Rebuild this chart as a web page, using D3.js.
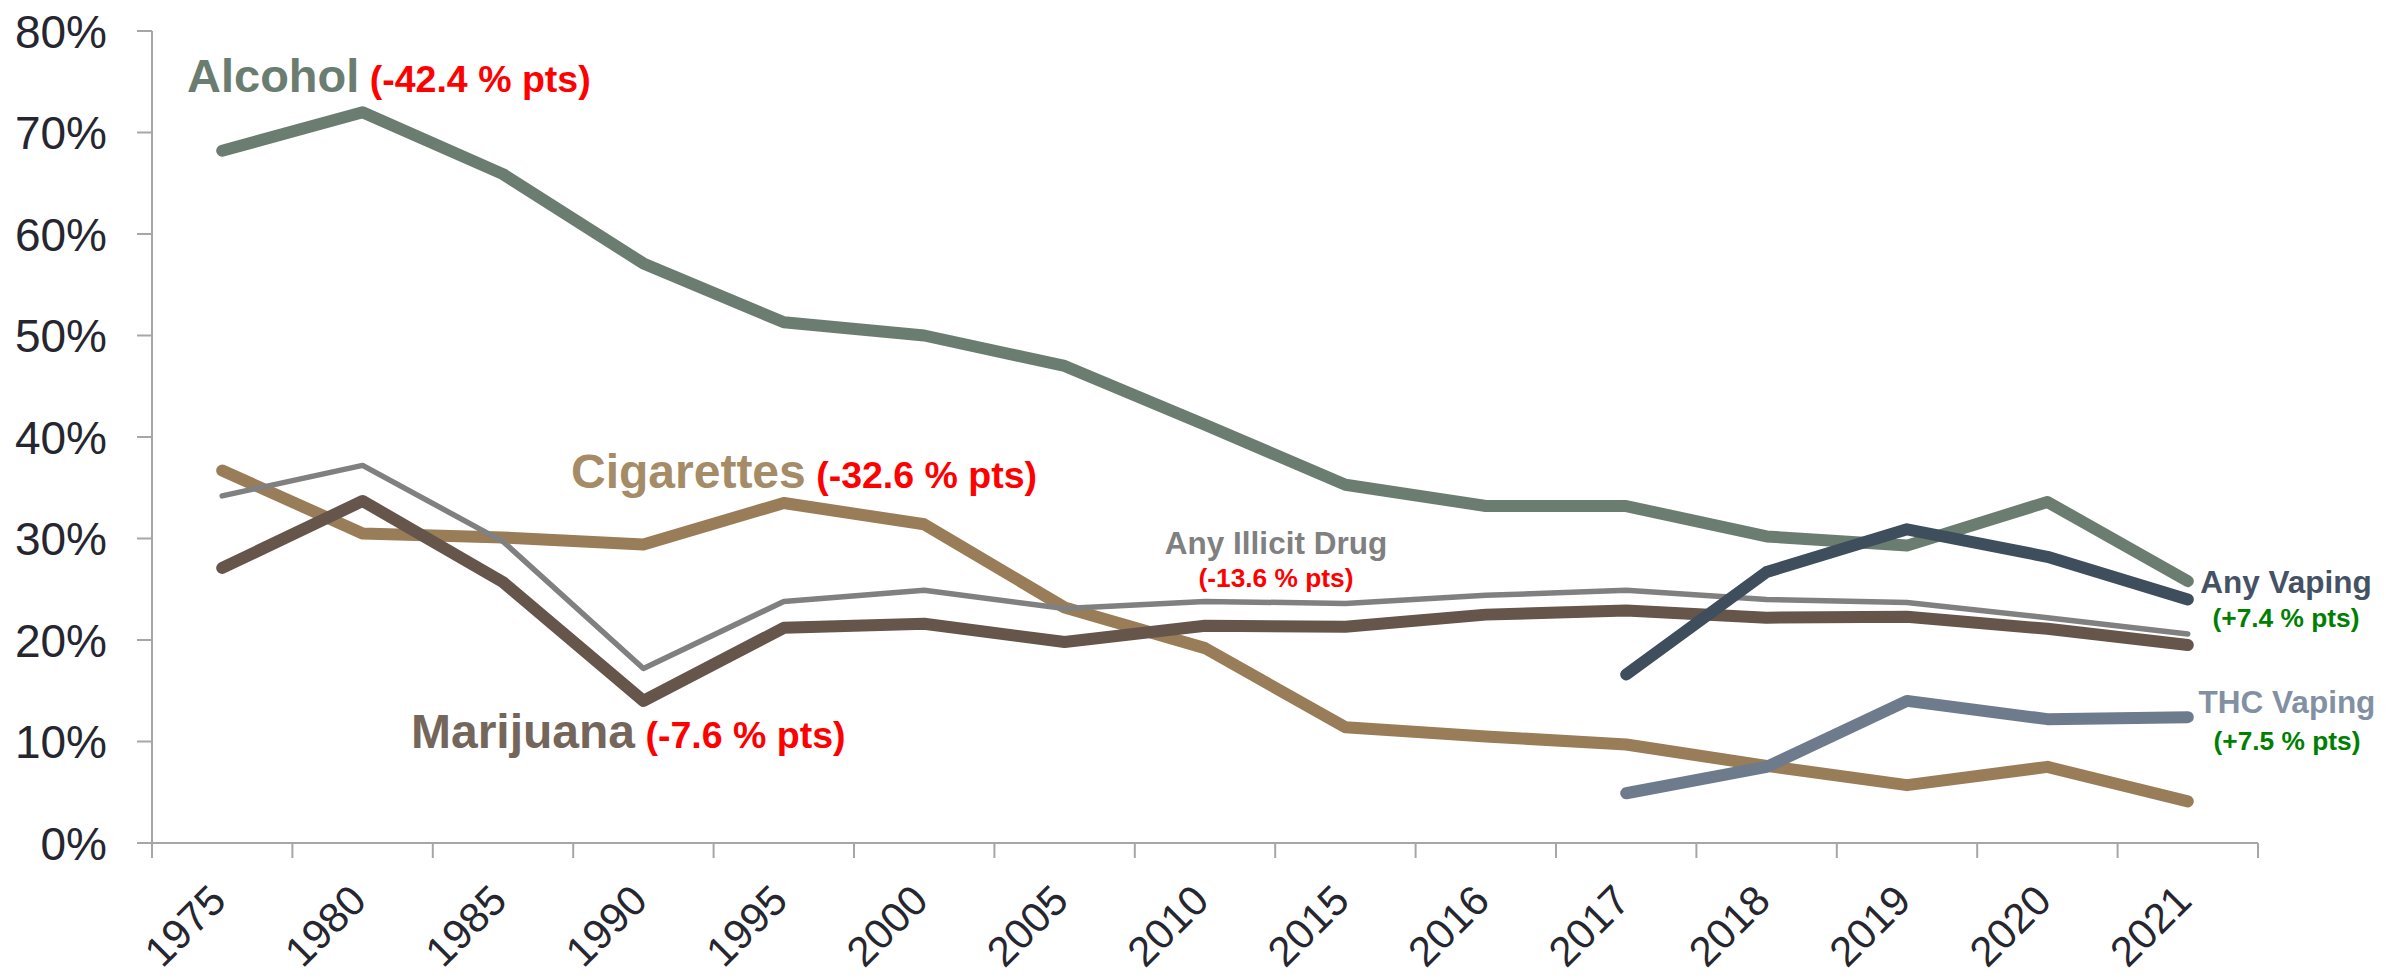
<!DOCTYPE html>
<html>
<head>
<meta charset="utf-8">
<script src="https://cdn.jsdelivr.net/npm/d3@7/dist/d3.min.js"></script>
<style>
  html, body { margin: 0; padding: 0; background: #ffffff; }
  svg { display: block; }
  text { font-family: "Liberation Sans", Arial, sans-serif; }
</style>
</head>
<body>
<svg id="chart" width="2389" height="977"></svg>
<script>
// Survey years (category axis)
const years = ["1975","1980","1985","1990","1995","2000","2005","2010","2015","2016","2017","2018","2019","2020","2021"];

// Past-30-day prevalence, percent (null = not surveyed)
const alcohol    = [68.2, 72.0, 65.9, 57.1, 51.3, 50.0, 47.0, 41.2, 35.3, 33.2, 33.2, 30.2, 29.3, 33.6, 25.8];
const cigarettes = [36.7, 30.5, 30.1, 29.4, 33.5, 31.4, 23.2, 19.2, 11.4, 10.5, 9.7, 7.6, 5.7, 7.5, 4.1];
const marijuana  = [27.1, 33.7, 25.7, 14.0, 21.2, 21.6, 19.8, 21.4, 21.3, 22.5, 22.9, 22.2, 22.3, 21.1, 19.5];
const illicit    = [34.2, 37.2, 29.7, 17.2, 23.8, 24.9, 23.1, 23.8, 23.6, 24.4, 24.9, 24.0, 23.7, 22.2, 20.6];
const anyVaping  = [null, null, null, null, null, null, null, null, null, null, 16.6, 26.7, 30.9, 28.2, 24.0];
const thcVaping  = [null, null, null, null, null, null, null, null, null, null, 4.9, 7.5, 14.0, 12.2, 12.4];

// Y axis tick values (percent)
const yTicks = [0, 10, 20, 30, 40, 50, 60, 70, 80];

const svg = d3.select("#chart");
const plotLeft = 152, plotRight = 2258, plotTop = 31, plotBottom = 843;

const x = d3.scaleBand().domain(years).range([plotLeft, plotRight]).padding(0);
const y = d3.scaleLinear().domain([0, 80]).range([plotBottom, plotTop]);
const cx = d => x(d) + x.bandwidth() / 2;

const axisColor = "#a6a6a6";
const labelColor = "#262630";

// Y axis
const yAxis = svg.append("g");
yAxis.append("line")
  .attr("x1", plotLeft).attr("x2", plotLeft).attr("y1", plotTop).attr("y2", plotBottom)
  .attr("stroke", axisColor).attr("stroke-width", 2);
yAxis.selectAll("line.tick").data(yTicks).join("line")
  .attr("class", "tick")
  .attr("x1", plotLeft - 15).attr("x2", plotLeft)
  .attr("y1", d => y(d)).attr("y2", d => y(d))
  .attr("stroke", axisColor).attr("stroke-width", 2);
yAxis.selectAll("text").data(yTicks).join("text")
  .attr("x", 107).attr("y", d => y(d))
  .attr("dy", "0.36em")
  .attr("text-anchor", "end")
  .attr("font-size", 46)
  .attr("fill", labelColor)
  .text(d => d + "%");

// X axis: baseline, ticks at band edges, rotated year labels
const xAxis = svg.append("g");
xAxis.append("line")
  .attr("x1", plotLeft).attr("x2", plotRight).attr("y1", plotBottom).attr("y2", plotBottom)
  .attr("stroke", axisColor).attr("stroke-width", 2);
const edges = years.map(d => x(d)).concat([plotRight]);
xAxis.selectAll("line.tick").data(edges).join("line")
  .attr("class", "tick")
  .attr("x1", d => d).attr("x2", d => d)
  .attr("y1", plotBottom).attr("y2", plotBottom + 15)
  .attr("stroke", axisColor).attr("stroke-width", 2);
xAxis.selectAll("text").data(years).join("text")
  .attr("transform", d => `translate(${cx(d) + 6},${plotBottom + 60}) rotate(-45)`)
  .attr("text-anchor", "end")
  .attr("font-size", 42)
  .attr("fill", labelColor)
  .text(d => d);

// Series lines
const line = d3.line()
  .defined(d => d != null)
  .x((d, i) => cx(years[i]))
  .y(d => y(d));

const series = [
  { values: cigarettes, color: "#987d58", width: 12 },
  { values: alcohol,    color: "#6b7d70", width: 12 },
  { values: marijuana,  color: "#65554b", width: 12 },
  { values: illicit,    color: "#808080", width: 5.5 },
  { values: thcVaping,  color: "#6e7b8c", width: 12 },
  { values: anyVaping,  color: "#3f4e5d", width: 12 }
];

svg.append("g").selectAll("path").data(series).join("path")
  .attr("d", s => line(s.values))
  .attr("fill", "none")
  .attr("stroke", s => s.color)
  .attr("stroke-width", s => s.width)
  .attr("stroke-linecap", "round")
  .attr("stroke-linejoin", "round");

// Series labels with change in percentage points
const labels = svg.append("g").attr("font-weight", "bold");

function pair(xPos, yPos, name, nameColor, nameSize, change, changeColor, changeSize) {
  const t = labels.append("text").attr("x", xPos).attr("y", yPos);
  t.append("tspan").attr("font-size", nameSize).attr("fill", nameColor).text(name);
  t.append("tspan").attr("font-size", changeSize).attr("fill", changeColor).text(" " + change);
}

pair(187, 92,  "Alcohol",    "#6b7d70", 47, "(-42.4 % pts)", "#ff0000", 37.5);
pair(571, 488, "Cigarettes", "#a58b66", 48, "(-32.6 % pts)", "#ff0000", 37.5);
pair(411, 748, "Marijuana",  "#75665b", 48, "(-7.6 % pts)",  "#ff0000", 37.5);

function stacked(xPos, y1, name, nameColor, y2, change, changeColor) {
  labels.append("text").attr("x", xPos).attr("y", y1)
    .attr("text-anchor", "middle").attr("font-size", 31.5).attr("fill", nameColor).text(name);
  labels.append("text").attr("x", xPos).attr("y", y2)
    .attr("text-anchor", "middle").attr("font-size", 26.3).attr("fill", changeColor).text(change);
}

stacked(1276, 554, "Any Illicit Drug", "#808080", 587, "(-13.6 % pts)", "#ff0000");
stacked(2286, 593, "Any Vaping", "#455264", 627, "(+7.4 % pts)", "#008000");
stacked(2287, 713, "THC Vaping", "#8290a4", 750, "(+7.5 % pts)", "#008000");
</script>
</body>
</html>
